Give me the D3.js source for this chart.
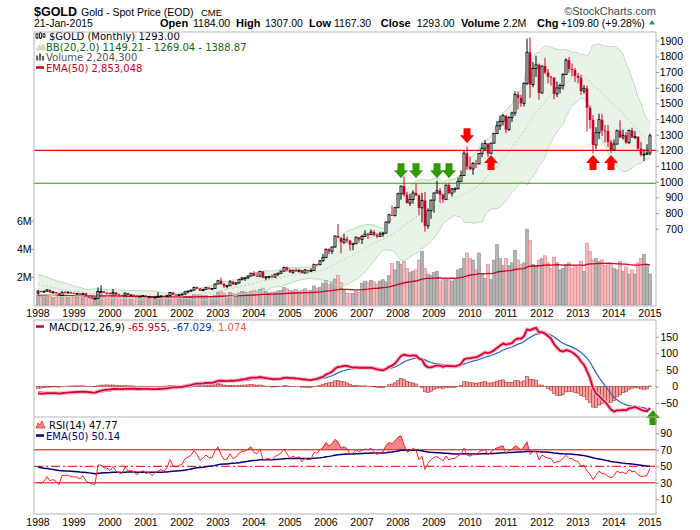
<!DOCTYPE html>
<html>
<head>
<meta charset="utf-8">
<script src="https://cdn.jsdelivr.net/npm/d3@7"></script>
<style>
  body { margin: 0; background: #fff; }
  svg { display: block; }
  text { font-family: "Liberation Sans", Arial, sans-serif; }
  .leg { font-family: "DejaVu Sans", Verdana, sans-serif; font-size: 10px; }
</style>
</head>
<body>
<div id="main"></div>
<script>
// monthly closes, Jan 1995 .. Jan 2015 (1995-1997 only warm up the indicators)
const closes = [
  375, 376, 392, 390, 385, 387, 383, 382, 384, 383, 387, 387,
  405, 400, 396, 392, 390, 382, 385, 387, 379, 379, 371, 369,
  345, 358, 348, 340, 345, 334, 326, 325, 332, 311, 296, 290,
  302, 297, 301, 310, 293, 296, 288, 273, 294, 292, 294, 288,
  287, 287, 280, 286, 268, 261, 255, 255, 299, 299, 291, 290,
  283, 293, 279, 274, 272, 288, 276, 277, 273, 264, 270, 273,
  265, 267, 258, 264, 267, 270, 266, 273, 293, 279, 275, 279,
  282, 297, 302, 308, 326, 318, 305, 313, 324, 317, 318, 347,
  368, 348, 334, 336, 361, 346, 354, 375, 385, 386, 398, 416,
  399, 396, 427, 387, 393, 395, 391, 409, 416, 429, 453, 438,
  422, 435, 428, 436, 417, 436, 430, 433, 473, 470, 495, 517,
  569, 556, 583, 654, 643, 614, 633, 624, 599, 604, 646, 632,
  651, 665, 662, 678, 659, 650, 665, 672, 743, 789, 783, 834,
  923, 972, 917, 863, 886, 928, 913, 833, 880, 718, 815, 882,
  928, 942, 917, 887, 978, 927, 954, 955, 1002, 1039, 1182, 1096,
  1081, 1117, 1113, 1180, 1214, 1244, 1181, 1246, 1307, 1357, 1385, 1421,
  1333, 1409, 1439, 1556, 1536, 1500, 1628, 1826, 1620, 1723, 1746, 1566,
  1738, 1697, 1669, 1664, 1561, 1598, 1614, 1684, 1776, 1719, 1712, 1675,
  1663, 1579, 1596, 1472, 1394, 1234, 1313, 1396, 1327, 1323, 1253, 1202,
  1240, 1326, 1284, 1296, 1250, 1327, 1282, 1287, 1211, 1172, 1175, 1183.2,
  1293
];

// monthly highs / lows, Jan 1998 .. Jan 2015
const highs = [
  307, 305, 303, 314, 304, 302, 296, 289, 301, 302, 301, 297,
  293, 290, 289, 290, 289, 267, 262, 261, 325, 339, 303, 296,
  292, 316, 294, 285, 277, 294, 290, 280, 278, 274, 271, 275,
  273, 270, 268, 266, 294, 275, 274, 278, 294, 293, 280, 281,
  286, 303, 304, 310, 327, 330, 320, 315, 326, 324, 322, 350,
  373, 388, 352, 342, 371, 366, 360, 375, 393, 390, 400, 417,
  428, 420, 431, 428, 397, 399, 409, 415, 418, 432, 456, 458,
  444, 437, 448, 438, 434, 443, 438, 448, 475, 476, 499, 540,
  572, 575, 586, 654, 730, 634, 667, 650, 627, 611, 649, 641,
  660, 690, 674, 695, 690, 671, 681, 681, 745, 795, 848, 840,
  930, 975, 1033, 936, 923, 945, 988, 918, 928, 935, 830, 886,
  930, 1006, 960, 925, 981, 990, 960, 965, 1026, 1071, 1195, 1226,
  1162, 1125, 1139, 1181, 1249, 1265, 1244, 1248, 1311, 1388, 1424, 1432,
  1424, 1418, 1447, 1576, 1577, 1556, 1633, 1913, 1921, 1764, 1804, 1754,
  1741, 1791, 1720, 1677, 1666, 1640, 1627, 1693, 1787, 1796, 1755, 1726,
  1695, 1684, 1617, 1615, 1488, 1424, 1348, 1434, 1434, 1362, 1361, 1267,
  1270, 1332, 1392, 1332, 1315, 1332, 1345, 1323, 1290, 1255, 1205, 1239,
  1307
];
const lows = [
  278, 294, 292, 300, 292, 287, 287, 271, 273, 288, 290, 284,
  284, 282, 278, 278, 267, 257, 252, 251, 255, 295, 288, 279,
  281, 283, 277, 273, 271, 272, 276, 271, 271, 263, 263, 267,
  262, 255, 256, 255, 263, 265, 263, 265, 270, 276, 271, 271,
  276, 281, 287, 299, 306, 315, 302, 300, 310, 312, 316, 316,
  347, 342, 321, 319, 337, 341, 341, 350, 370, 367, 380, 396,
  397, 393, 391, 384, 371, 381, 386, 386, 398, 410, 427, 426,
  417, 411, 425, 420, 414, 414, 416, 428, 431, 460, 468, 490,
  515, 538, 538, 580, 640, 542, 601, 608, 560, 562, 604, 611,
  602, 647, 633, 662, 651, 639, 647, 648, 670, 732, 781, 780,
  834, 885, 905, 862, 845, 860, 908, 786, 740, 681, 700, 763,
  802, 927, 865, 866, 885, 920, 905, 931, 952, 1001, 1039, 1075,
  1073, 1044, 1088, 1115, 1156, 1200, 1157, 1175, 1243, 1307, 1330, 1359,
  1309, 1324, 1381, 1420, 1462, 1478, 1480, 1616, 1535, 1603, 1669, 1523,
  1563, 1688, 1627, 1613, 1527, 1540, 1563, 1588, 1683, 1695, 1671, 1636,
  1627, 1555, 1562, 1321, 1338, 1180, 1208, 1271, 1292, 1251, 1221, 1182,
  1202, 1238, 1277, 1268, 1241, 1240, 1280, 1273, 1206, 1161, 1131, 1170,
  1167
];

// monthly volume in millions, Jan 1998 .. Jan 2015
const volumes = [
  0.70, 0.62, 0.58, 0.66, 0.60, 0.55, 0.52, 0.68, 0.72, 0.60, 0.55, 0.50,
  0.52, 0.55, 0.50, 0.58, 0.62, 0.60, 0.58, 0.55, 0.95, 0.85, 0.60, 0.50,
  0.55, 0.70, 0.55, 0.50, 0.48, 0.55, 0.50, 0.48, 0.50, 0.52, 0.48, 0.45,
  0.50, 0.48, 0.52, 0.50, 0.65, 0.50, 0.48, 0.45, 0.62, 0.55, 0.50, 0.48,
  0.52, 0.62, 0.58, 0.60, 0.75, 0.70, 0.72, 0.65, 0.68, 0.60, 0.58, 0.70,
  0.90, 0.95, 0.85, 0.70, 0.88, 0.80, 0.75, 0.85, 0.95, 0.92, 0.85, 0.95,
  1.05, 0.95, 1.10, 1.20, 0.95, 0.85, 0.90, 0.92, 1.00, 1.05, 1.25, 1.15,
  1.05, 1.00, 1.10, 0.95, 1.05, 1.15, 1.00, 1.05, 1.35, 1.20, 1.25, 1.55,
  1.75, 1.45, 1.65, 1.85, 2.10, 1.60, 1.05, 0.85, 0.80, 0.82, 0.95, 0.90,
  1.55, 1.70, 1.60, 1.75, 1.65, 1.50, 1.70, 1.80, 1.65, 2.10, 2.95, 2.50,
  3.10, 2.90, 3.10, 2.60, 2.30, 2.40, 2.50, 3.20, 3.80, 2.60, 2.20, 2.10,
  2.30, 2.40, 1.70, 1.80, 1.90, 1.80, 1.70, 1.80, 2.50, 2.60, 3.30, 3.70,
  3.30, 3.20, 2.50, 3.70, 2.20, 1.90, 2.90, 1.80, 3.20, 4.30, 3.30, 2.80,
  3.30, 2.80, 3.00, 3.90, 3.20, 2.90, 3.00, 5.40, 4.60, 2.90, 2.80, 3.20,
  3.30, 3.50, 3.00, 2.60, 3.40, 3.00, 2.50, 2.60, 2.90, 3.00, 2.60, 2.80,
  2.70, 3.10, 2.40, 4.40, 3.80, 3.20, 3.30, 3.10, 3.20, 2.80, 3.00, 2.90,
  2.60, 2.50, 3.10, 2.40, 2.70, 2.20, 2.50, 2.20, 3.00, 3.30, 3.60, 2.80,
  2.20
];

const years = d3.range(1998, 2016);
const priceTicks = [700, 800, 900, 1000, 1100, 1200, 1300, 1400, 1500, 1600, 1700, 1800, 1900];
const volTicks = [2, 4, 6];
const macdTicks = [-50, 0, 50, 100, 150];
const rsiTicks = [10, 30, 50, 70, 90];
const levels = [{ value: 1200, color: '#ff0000' }, { value: 990, color: '#339900' }];
// annotation arrows: month index from Jan 1998, tip value
const priceArrows = [
  { i: 121, v: 1022, dir: 'down', color: '#339900' },
  { i: 126, v: 1022, dir: 'down', color: '#339900' },
  { i: 133, v: 1022, dir: 'down', color: '#339900' },
  { i: 137, v: 1022, dir: 'down', color: '#339900' },
  { i: 143, v: 1245, dir: 'down', color: '#ff0000' },
  { i: 151, v: 1171, dir: 'up', color: '#ff0000' },
  { i: 185, v: 1171, dir: 'up', color: '#ff0000' },
  { i: 191, v: 1171, dir: 'up', color: '#ff0000' }
];
const macdArrows = [{ i: 205, v: -71, dir: 'up', color: '#339900' }];

const off = 36;                     // closes index of Jan 1998
const n = highs.length;
const idx = d3.range(n);
const red = '#cc0022';

// ---------- indicators ----------
function ema(arr, p) {
  const k = 2 / (p + 1);
  let prev = null;
  return arr.map(v => (prev = prev === null ? v : v * k + prev * (1 - k)));
}
function rsiCalc(arr, p) {
  const out = arr.map(() => null);
  let g = 0, l = 0;
  for (let i = 1; i <= p; i++) { const d = arr[i] - arr[i - 1]; if (d > 0) g += d; else l -= d; }
  g /= p; l /= p;
  out[p] = 100 - 100 / (1 + g / l);
  for (let i = p + 1; i < arr.length; i++) {
    const d = arr[i] - arr[i - 1];
    g = (g * (p - 1) + Math.max(d, 0)) / p;
    l = (l * (p - 1) + Math.max(-d, 0)) / p;
    out[i] = l === 0 ? 100 : 100 - 100 / (1 + g / l);
  }
  return out;
}

const bb = idx.map(i => {
  const w = closes.slice(off + i - 19, off + i + 1);
  const m = d3.mean(w);
  const sd = Math.sqrt(d3.mean(w, v => (v - m) * (v - m)));
  return { i, mid: m, up: m + 2 * sd, lo: m - 2 * sd };
});
const e12 = ema(closes, 12), e26 = ema(closes, 26);
const macdAll = closes.map((c, k) => e12[k] - e26[k]);
const sigAll = ema(macdAll, 9);
const macd = idx.map(i => ({ i, m: macdAll[off + i], s: sigAll[off + i], h: macdAll[off + i] - sigAll[off + i] }));
const rsiAll = rsiCalc(closes, 14);
const rsiEma = ema(rsiAll.slice(14), 50);
const rsi = idx.map(i => ({ i, r: rsiAll[off + i], e: rsiEma[off + i - 14] }));
const volEma = ema(volumes, 50);
const candles = idx.map(i => ({
  i, o: closes[off + i - 1], c: closes[off + i], h: highs[i], l: lows[i], v: volumes[i], ve: volEma[i]
}));

// ---------- layout ----------
const L = 34, R = 656;
const mainP = { top: 32, bottom: 306 };
const macdP = { top: 320, bottom: 417 };
const rsiP = { top: 417, bottom: 514 };

const x = d3.scaleLinear().domain([0, 204]).range([38, 650]);
const yP = d3.scaleLinear().domain([700, 1900]).range([228.7, 40.7]);
const yV = d3.scaleLinear().domain([0, 6]).range([305, 220.7]);
const yM = d3.scaleLinear().domain([-50, 150]).range([403, 336.7]);
const yR = d3.scaleLinear().domain([10, 90]).range([499.3, 433.3]);

const svg = d3.select('#main').append('svg').attr('width', 700).attr('height', 530);
const defs = svg.append('defs');
function clip(id, p) {
  defs.append('clipPath').attr('id', id).append('rect')
    .attr('x', L).attr('y', p.top).attr('width', R - L).attr('height', p.bottom - p.top);
}
clip('cMain', mainP); clip('cMacd', macdP); clip('cRsi', rsiP);
defs.append('clipPath').attr('id', 'cOver').append('rect')
  .attr('x', L).attr('y', rsiP.top).attr('width', R - L).attr('height', yR(70) - rsiP.top);

// ---------- header ----------
svg.append('text').attr('x', 34).attr('y', 15.5).attr('font-size', 13).attr('font-weight', 'bold')
  .attr('textLength', 43).attr('lengthAdjust', 'spacingAndGlyphs').text('$GOLD');
svg.append('text').attr('x', 81).attr('y', 15.5).attr('font-size', 10.5).text('Gold - Spot Price (EOD)');
svg.append('text').attr('x', 201).attr('y', 15.5).attr('font-size', 9.5).text('CME');
svg.append('text').attr('x', 656).attr('y', 14.5).attr('font-size', 11).attr('fill', '#444')
  .attr('text-anchor', 'end').text('\u00A9StockCharts.com');

const hdr = [
  ['21-Jan-2015', 34, false], ['Open', 160, true], ['1184.00', 193, false],
  ['High', 236, true], ['1307.00', 265, false], ['Low', 309, true], ['1167.30', 334, false],
  ['Close', 380.7, true], ['1293.00', 416.7, false], ['Volume', 461, true], ['2.2M', 503, false],
  ['Chg', 537, true], ['+109.80 (+9.28%)', 560.7, false]
];
svg.append('g').selectAll('text').data(hdr).join('text')
  .attr('x', d => d[1]).attr('y', 27)
  .attr('font-size', d => d[2] ? 11 : 10.5)
  .attr('font-weight', d => d[2] ? 'bold' : 'normal')
  .text(d => d[0]);
svg.append('path').attr('d', 'M649,24.5 L655,24.5 L652,20 Z').attr('fill', '#339933');

// ---------- main panel ----------
const gm = svg.append('g').attr('clip-path', 'url(#cMain)');

gm.append('path').datum(bb)
  .attr('d', d3.area().x(d => x(d.i)).y0(d => yP(d.lo)).y1(d => yP(d.up)).curve(d3.curveMonotoneX))
  .attr('fill', '#e9f4e9');

// volume
gm.append('g').selectAll('rect').data(candles).join('rect')
  .attr('x', d => x(d.i) - 1.5).attr('width', 3)
  .attr('y', d => yV(d.v)).attr('height', d => yV(0) - yV(d.v))
  .attr('fill', d => d.c >= d.o ? '#b3b3b3' : '#f3b9bd')
  .attr('stroke', d => d.c >= d.o ? '#8c8c8c' : '#e08088').attr('stroke-width', 0.6);
gm.append('path').datum(candles)
  .attr('d', d3.line().x(d => x(d.i)).y(d => yV(d.ve)))
  .attr('fill', 'none').attr('stroke', red).attr('stroke-width', 1.3);

['up', 'lo'].forEach(k => {
  gm.append('path').datum(bb)
    .attr('d', d3.line().x(d => x(d.i)).y(d => yP(d[k])).curve(d3.curveMonotoneX))
    .attr('fill', 'none').attr('stroke', '#bcdcbc').attr('stroke-width', 1);
});
gm.append('path').datum(bb)
  .attr('d', d3.line().x(d => x(d.i)).y(d => yP(d.mid)).curve(d3.curveMonotoneX))
  .attr('fill', 'none').attr('stroke', '#c4cfc4').attr('stroke-width', 1).attr('stroke-dasharray', '2,2');

gm.selectAll('line.lvl').data(levels).join('line').attr('class', 'lvl')
  .attr('x1', L).attr('x2', R).attr('y1', d => yP(d.value)).attr('y2', d => yP(d.value))
  .attr('stroke', d => d.color).attr('stroke-width', 1.2);

// candles
const cg = gm.append('g');
cg.selectAll('line').data(candles).join('line')
  .attr('x1', d => x(d.i)).attr('x2', d => x(d.i))
  .attr('y1', d => yP(d.h)).attr('y2', d => yP(d.l))
  .attr('stroke', d => d.c >= d.o ? '#000' : red).attr('stroke-width', 1);
cg.selectAll('rect').data(candles).join('rect')
  .attr('x', d => x(d.i) - (d.c >= d.o ? 1 : 1.3))
  .attr('width', d => d.c >= d.o ? 2 : 2.6)
  .attr('y', d => yP(Math.max(d.o, d.c)))
  .attr('height', d => Math.max(0.8, Math.abs(yP(d.o) - yP(d.c))))
  .attr('fill', d => d.c >= d.o ? '#fff' : red)
  .attr('stroke', d => d.c >= d.o ? '#000' : 'none').attr('stroke-width', 0.9);

// arrows
function arrowPath(ax, ay, dir) {
  const s = dir === 'down' ? -1 : 1;   // tip at (ax, ay)
  const hh = 8, st = 7;
  return `M${ax},${ay} L${ax + 7},${ay + s * hh} L${ax + 3.5},${ay + s * hh} L${ax + 3.5},${ay + s * (hh + st)}` +
    ` L${ax - 3.5},${ay + s * (hh + st)} L${ax - 3.5},${ay + s * hh} L${ax - 7},${ay + s * hh} Z`;
}
svg.append('g').selectAll('path').data(priceArrows).join('path')
  .attr('d', d => arrowPath(x(d.i), yP(d.v), d.dir)).attr('fill', d => d.color);

// legend (main)
const lg = svg.append('g');
[[37, 34, 38], [40.5, 33, 38], [44, 34, 37]].forEach(([cx, t, b]) => {
  lg.append('line').attr('x1', cx).attr('x2', cx).attr('y1', t - 1).attr('y2', b + 1).attr('stroke', '#000');
  lg.append('rect').attr('x', cx - 1).attr('y', t).attr('width', 2).attr('height', b - t)
    .attr('fill', '#fff').attr('stroke', '#000').attr('stroke-width', 0.8);
});
lg.append('text').attr('class', 'leg').attr('x', 49).attr('y', 40).attr('font-size', 10.5).text('$GOLD (Monthly) 1293.00');
lg.append('path').attr('d', 'M36,50 L39,45 L41,47 L43,44 L46,50 Z').attr('fill', '#cfe6cf').attr('stroke', '#a8cfa8').attr('stroke-width', 0.6);
lg.append('text').attr('class', 'leg').attr('x', 46).attr('y', 50.5).attr('fill', '#116611')
  .text('BB(20,2.0) 1149.21 - 1269.04 - 1388.87');
[[36, 55.5], [39, 53.5], [42, 56]].forEach(([bx, by]) =>
  lg.append('rect').attr('x', bx).attr('y', by).attr('width', 2.2).attr('height', 60.5 - by).attr('fill', '#666'));
lg.append('text').attr('class', 'leg').attr('x', 46).attr('y', 61).attr('fill', '#555').text('Volume 2,204,300');
lg.append('line').attr('x1', 36).attr('x2', 44).attr('y1', 67.5).attr('y2', 67.5).attr('stroke', red).attr('stroke-width', 2.5);
lg.append('text').attr('class', 'leg').attr('x', 46).attr('y', 71.5).attr('fill', red).text('EMA(50) 2,853,048');

// ---------- MACD panel ----------
const gmac = svg.append('g').attr('clip-path', 'url(#cMacd)');
gmac.append('g').selectAll('rect').data(macd).join('rect')
  .attr('x', d => x(d.i) - 1.5).attr('width', 3)
  .attr('y', d => Math.min(yM(d.h), yM(0))).attr('height', d => Math.abs(yM(d.h) - yM(0)))
  .attr('fill', '#f4a3a3').attr('stroke', '#b83030').attr('stroke-width', 0.6);
gmac.append('path').datum(macd)
  .attr('d', d3.line().x(d => x(d.i)).y(d => yM(d.s)))
  .attr('fill', 'none').attr('stroke', '#2f5fcf').attr('stroke-width', 1.2);
const mLine = d3.line().x(d => x(d.i)).y(d => yM(d.m));
gmac.append('path').datum(macd).attr('d', mLine)
  .attr('fill', 'none').attr('stroke', '#f6b8c4').attr('stroke-width', 4);
gmac.append('path').datum(macd).attr('d', mLine)
  .attr('fill', 'none').attr('stroke', '#dd0033').attr('stroke-width', 1.8);

svg.append('line').attr('x1', 36).attr('x2', 44).attr('y1', 326.5).attr('y2', 326.5).attr('stroke', red).attr('stroke-width', 2.5);
const mt = svg.append('text').attr('class', 'leg').attr('x', 49).attr('y', 330.5).attr('font-size', 11);
mt.append('tspan').text('MACD(12,26,9) ');
mt.append('tspan').attr('fill', '#cc0033').text('-65.955, ');
mt.append('tspan').attr('fill', '#0033cc').text('-67.029');
mt.append('tspan').attr('fill', '#ff4d4d').text(', 1.074');

// ---------- RSI panel ----------
const grs = svg.append('g').attr('clip-path', 'url(#cRsi)');
grs.append('path').datum(rsi)
  .attr('clip-path', 'url(#cOver)')
  .attr('d', d3.area().x(d => x(d.i)).y0(yR(70)).y1(d => yR(d.r)))
  .attr('fill', '#f2858a');
[70, 30].forEach(v => grs.append('line').attr('x1', L).attr('x2', R).attr('y1', yR(v)).attr('y2', yR(v))
  .attr('stroke', '#e00000').attr('stroke-width', 1));
grs.append('line').attr('x1', L).attr('x2', R).attr('y1', yR(50)).attr('y2', yR(50))
  .attr('stroke', '#e00000').attr('stroke-width', 1).attr('stroke-dasharray', '9,3,2,3');
grs.append('path').datum(rsi)
  .attr('d', d3.line().x(d => x(d.i)).y(d => yR(d.e)))
  .attr('fill', 'none').attr('stroke', '#000080').attr('stroke-width', 1.5);
grs.append('path').datum(rsi)
  .attr('d', d3.line().x(d => x(d.i)).y(d => yR(d.r)))
  .attr('fill', 'none').attr('stroke', '#ff2020').attr('stroke-width', 1);

svg.append('path').attr('d', 'M36,428 L38,423 L40,425 L42,421 L45,428 Z').attr('fill', '#f2858a').attr('stroke', '#e00000').attr('stroke-width', 0.6);
svg.append('text').attr('class', 'leg').attr('x', 49).attr('y', 428.5).attr('font-size', 10.5).text('RSI(14) 47.77');
svg.append('line').attr('x1', 36).attr('x2', 44).attr('y1', 435.5).attr('y2', 435.5).attr('stroke', '#000080').attr('stroke-width', 2.5);
svg.append('text').attr('class', 'leg').attr('x', 46).attr('y', 439.5).attr('fill', '#000080').text('EMA(50) 50.14');

svg.append('g').selectAll('path').data(macdArrows).join('path')
  .attr('d', d => arrowPath(x(d.i), yM(d.v), d.dir)).attr('fill', d => d.color);

// ---------- frames and axes ----------
const frame = svg.append('g').attr('fill', 'none').attr('stroke', '#b4b4b4').attr('stroke-width', 1);
frame.append('path').attr('d', `M${L},${mainP.bottom} V${mainP.top} H${R} V${mainP.bottom}`);
frame.append('path').attr('d', `M${L},${mainP.bottom} H${R}`);
frame.append('rect').attr('x', L).attr('y', macdP.top).attr('width', R - L).attr('height', rsiP.bottom - macdP.top);
frame.append('line').attr('x1', L).attr('x2', R).attr('y1', macdP.bottom).attr('y2', macdP.bottom);

function rightAxis(scale, ticks, labelX, fmt) {
  const g = svg.append('g').attr('transform', `translate(${R},0)`)
    .call(d3.axisRight(scale).tickValues(ticks).tickSize(3).tickFormat(fmt || d3.format('d')));
  g.select('.domain').remove();
  g.selectAll('line').attr('stroke', '#999');
  g.selectAll('text').attr('x', labelX).attr('text-anchor', 'end')
    .attr('font-family', '"Liberation Sans", Arial, sans-serif').attr('font-size', 10.5).attr('fill', '#000');
}
rightAxis(yP, priceTicks, 27);
rightAxis(yM, macdTicks, 22);
rightAxis(yR, rsiTicks, 16);

const va = svg.append('g').attr('transform', `translate(${L},0)`)
  .call(d3.axisLeft(yV).tickValues(volTicks).tickSize(3).tickFormat(d => d + 'M'));
va.select('.domain').remove();
va.selectAll('line').attr('stroke', '#999');
va.selectAll('text').attr('x', -2.5).attr('font-family', '"Liberation Sans", Arial, sans-serif')
  .attr('font-size', 10.5).attr('fill', '#000');

[317, 525.5].forEach(yy => {
  svg.append('g').selectAll('text').data(years).join('text')
    .attr('x', d => x((d - 1998) * 12)).attr('y', yy)
    .attr('text-anchor', 'middle').attr('font-size', 10.5).text(d => d);
});
</script>
</body>
</html>
